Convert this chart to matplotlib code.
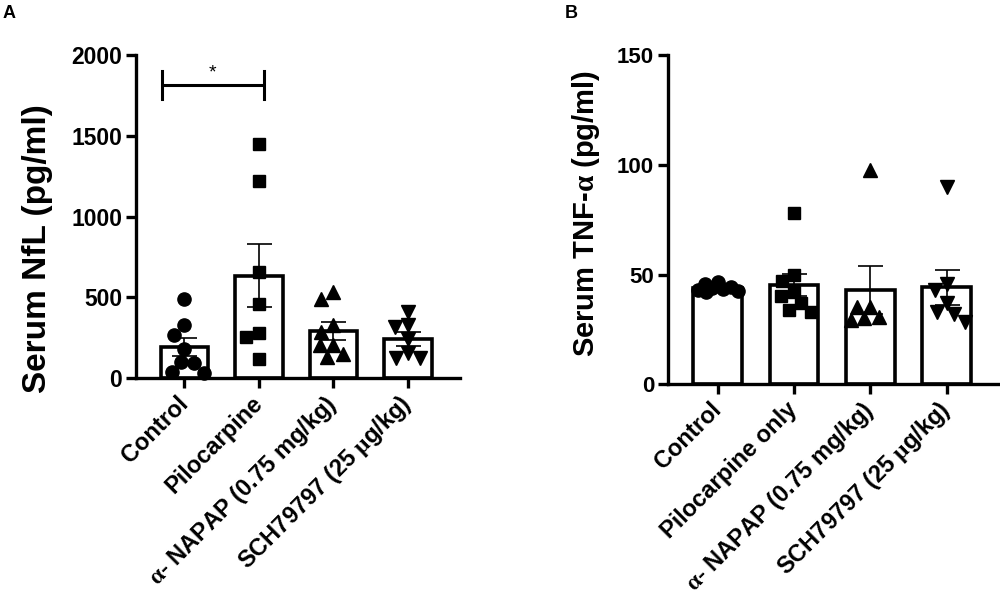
import matplotlib
matplotlib.use("Agg")
import matplotlib.pyplot as plt
import numpy as np

plt.rcParams["font.family"] = ["Liberation Sans", "DejaVu Sans"]
plt.rcParams["font.weight"] = "bold"
plt.rcParams["mathtext.fontset"] = "custom"
plt.rcParams["mathtext.it"] = "Liberation Serif"
plt.rcParams["mathtext.rm"] = "Liberation Serif"

# panel A: serum NfL (pg/ml)
groups_a = ["Control", "Pilocarpine", r"$\alpha$- NAPAP (0.75 mg/kg)", r"SCH79797 (25 $\mu$g/kg)"]
nfl_control = [487, 328, 270, 180, 101, 91, 39, 33]
nfl_pilo = [1450, 1220, 660, 460, 280, 255, 120]
nfl_napap = [534, 493, 328, 287, 204, 204, 148, 130]
nfl_sch = [411, 328, 318, 245, 153, 122, 122]

# panel B: serum TNF-alpha (pg/ml)
groups_b = ["Control", "Pilocarpine only", r"$\alpha$- NAPAP (0.75 mg/kg)", r"SCH79797 (25 $\mu$g/kg)"]
tnf_control = [46.5, 45.5, 44.5, 44, 43.5, 43, 42.5, 42]
tnf_pilo = [78, 50, 47, 42, 40, 37, 34, 33]
tnf_napap = [97.6, 35.3, 35.3, 30.7, 30, 29.2]
tnf_sch = [90, 45.6, 43, 37, 33, 32, 28.4]

markers = ["o", "s", "^", "v"]
msizes = [9.5, 8.5, 9.5, 9.5]


def swarm_offsets(ax, xc, vals, diam, maxoff):
    # greedy swarm in pixel space, offsets kept inside +-maxoff px
    t = ax.transData
    ys = t.transform(np.column_stack([np.full(len(vals), xc), vals]))[:, 1]
    ppx = t.transform((1, 0))[0] - t.transform((0, 0))[0]
    cands = np.arange(-maxoff, maxoff + 0.5, 1.0)
    cands = cands[np.argsort(np.abs(cands), kind="stable")]
    placed = []
    xs = []
    for y in ys:
        best, best_cost = 0.0, None
        for c in cands:
            cost = 0.0
            for px, py in placed:
                d = np.hypot(c - px, y - py)
                cost = max(cost, diam - d)
            if best_cost is None or cost < best_cost - 1e-9:
                best, best_cost = c, cost
        placed.append((best, y))
        xs.append(xc + best / ppx)
    return xs


def draw_panel(ax, data, labels, ylim, yticks, ylabel, label_xy, label_fs, tick_fs):
    x = np.arange(len(data))
    means = [np.mean(d) for d in data]
    sems = [np.std(d, ddof=1) / np.sqrt(len(d)) for d in data]
    ax.set_xlim(-0.65, 3.7)
    ax.set_ylim(*ylim)
    ax.bar(x, means, width=0.64, facecolor="white", edgecolor="black",
           linewidth=2.6, zorder=1)
    for i, d in enumerate(data):
        xs = swarm_offsets(ax, x[i], d, 13, 20)
        ax.plot(xs, d, marker=markers[i], ms=msizes[i], color="black",
                ls="none", zorder=3, clip_on=False)
    ax.errorbar(x, means, yerr=sems, fmt="none", ecolor="black",
                elinewidth=1.2, capsize=9, capthick=1.2, zorder=4)
    ax.set_yticks(yticks)
    ax.set_xticks(x)
    ax.set_xticklabels(labels, rotation=45, ha="right", va="center",
                       rotation_mode="anchor", fontsize=17, fontweight="bold")
    ax.set_ylabel(ylabel, fontsize=label_fs, fontweight="bold")
    ax.yaxis.set_label_coords(*label_xy)
    for s in ["top", "right"]:
        ax.spines[s].set_visible(False)
    for s in ["left", "bottom"]:
        ax.spines[s].set_linewidth(2.4)
    ax.tick_params(axis="both", width=2.4, length=7)
    ax.tick_params(axis="x", pad=9)
    ax.tick_params(axis="y", pad=3, labelsize=tick_fs)


fig = plt.figure(figsize=(10, 6.06), dpi=100)
axA = fig.add_axes([0.136, 0.376, 0.324, 0.533])
axB = fig.add_axes([0.668, 0.366, 0.332, 0.543])

draw_panel(axA, [nfl_control, nfl_pilo, nfl_napap, nfl_sch], groups_a,
           (0, 2000), [0, 500, 1000, 1500, 2000], "Serum NfL (pg/ml)",
           (-0.255, 0.40), 24, 16.5)
draw_panel(axB, [tnf_control, tnf_pilo, tnf_napap, tnf_sch], groups_b,
           (0, 150), [0, 50, 100, 150], r"Serum TNF-$\alpha$ (pg/ml)",
           (-0.2, 0.52), 21, 16)

# significance bracket Control vs Pilocarpine
axA.plot([-0.3, 1.07], [1814, 1814], color="black", lw=2.2, solid_capstyle="butt")
axA.plot([-0.3, -0.3], [1730, 1900], color="black", lw=2.2)
axA.plot([1.07, 1.07], [1730, 1900], color="black", lw=2.2)
axA.text(0.38, 1840, "*", ha="center", va="bottom", fontsize=14, fontweight="normal")

fig.text(0.003, 0.992, "A", fontsize=13, fontweight="bold", va="top")
fig.text(0.565, 0.992, "B", fontsize=13, fontweight="bold", va="top")

fig.savefig("out.png", dpi=100)
